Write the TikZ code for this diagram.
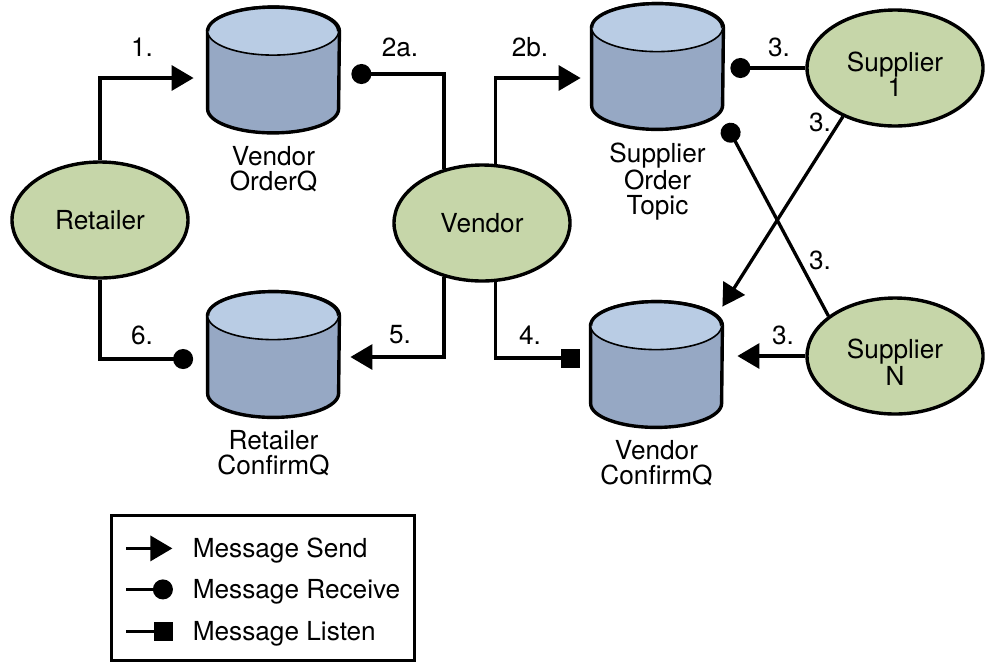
\documentclass[tikz,border=0pt]{standalone}
\usepackage{fontspec}
\setmainfont{TeX Gyre Heros}
\usepackage{tikz}
\usetikzlibrary{arrows.meta,positioning,calc,shapes.geometric}
\definecolor{cActor}{HTML}{C6D6A9}
\definecolor{cQTop} {HTML}{B9CCE4}
\definecolor{cQSide}{HTML}{96A8C4}
\newcommand{\topstrut}{\rule{0pt}{15.8pt}}
\tikzset{
  actor/.style ={ellipse,draw=black,line width=1.7pt,fill=cActor,align=center,
                 minimum width=88pt,minimum height=58pt,inner sep=0pt},
  qbox/.style  ={rectangle,minimum width=65.5pt,minimum height=62.5pt,inner sep=0pt},
  qlbl/.style  ={align=center,anchor=north,inner sep=0pt},
  num/.style   ={inner sep=0pt},
  legbox/.style={draw=black,line width=1.6pt,minimum width=151.5pt,
                 minimum height=72.5pt,inner sep=0pt},
  legtxt/.style={anchor=base west,inner sep=0pt},
  msg/.style   ={draw=black,line width=1.65pt},
  send/.style  ={msg,-{Triangle[length=11pt,width=12.5pt]}},
  recv/.style  ={msg,-{Circle[length=10pt]}},
  lstn/.style  ={msg,-{Square[length=9.5pt]}},
}

\begin{document}
\begin{tikzpicture}[
  x=0.5pt, y=0.5pt, font=\fontsize{13.1}{12.3}\selectfont,
]
\useasboundingbox (0,0) rectangle (988,-665);

% queue drawn as a cylinder over an invisible box node, label below it
\newcommand{\msgqueue}[4]{%
  \node[qbox] (#1) at (#2,#3) {};
  \filldraw[fill=cQSide,line width=1.7pt]
    ($(#1.north west)+(0,-24)$) -- ($(#1.south west)+(0,24)$)
    arc[start angle=180,end angle=360,x radius=32.75pt,y radius=12pt]
    -- ($(#1.north east)+(0,-24)$)
    arc[start angle=0,end angle=180,x radius=32.75pt,y radius=12pt] -- cycle;
  \fill[cQTop] ($(#1.north)+(0,-24)$) ellipse[x radius=32.75pt,y radius=12pt];
  \draw[line width=0.8pt] ($(#1.north west)+(0,-24)$)
    arc[start angle=180,end angle=360,x radius=32.75pt,y radius=12pt];
  \draw[line width=1.7pt] ($(#1.north west)+(0,-24)$)
    arc[start angle=180,end angle=0,x radius=32.75pt,y radius=12pt];
  \node[qlbl] (#1l) at ($(#1.south)+(0,-13)$) {#4};}

% ===== actors ============================================================
\node[actor] (ret)  at (100,-220) {Retailer};
\node[actor] (ven)  at (482,-223) {Vendor};
\node[actor] (sup1) at (895,-68)  {\topstrut Supplier\\1};
\node[actor] (supN) at (895,-356) {\topstrut Supplier\\N};

% ===== queues and topic ==================================================
\msgqueue{voq}{273.5}{-70}{Vendor\\OrderQ}
\msgqueue{rcq}{273.5}{-354.5}{Retailer\\ConfirmQ}
\msgqueue{sot}{657.5}{-66.5}{Supplier\\Order\\Topic}
\msgqueue{vcq}{656.5}{-364.5}{Vendor\\ConfirmQ}

% ===== order path ========================================================
\draw[send] (ret.north) |- ($(voq.west)+(-14,-8)$);
\draw[recv] (ven.125)   |- ($(voq.east)+(12,-4)$);
\draw[send] (ven.77)    |- ($(sot.west)+(-11,-11.5)$);

% suppliers take the order off the topic and answer on the vendor queue
\coordinate (sotR) at ($(sot.east)+(7,0)$);
\coordinate (d3)   at ($(sot.south east)+(2.5,5.5)$);
\coordinate (t3)   at ($(vcq.north east)+(0,-5)$);
\coordinate (vcqR) at ($(vcq.east)+(15,0)$);
\draw[recv] (sup1.west) -- (sup1.west -| sotR);
\draw[recv] (supN.149)  -- (d3);
\draw[send] (sup1.223)  -- (t3);
\draw[send] (supN.west) -- (supN.west -| vcqR);

% ===== confirmation path =================================================
\draw[lstn] (ven.283)   |- ($(vcq.west)+(-11,6.5)$);
\draw[send] (ven.235)   |- ($(rcq.east)+(11,-2.5)$);
\draw[recv] (ret.south) |- ($(rcq.west)+(-14.5,-4.5)$);

% step numbers
\node[num] (n1)  at (142,-47)  {1.};
\node[num] (n2a) at (400,-47)  {2a.};
\node[num] (n2b) at (530,-47)  {2b.};
\node[num] (n3a) at (779,-47)  {3.};
\node[num] (n3b) at (820,-122) {3.};
\node[num] (n3c) at (820,-260) {3.};
\node[num] (n3d) at (783,-335) {3.};
\node[num] (n4)  at (530,-335) {4.};
\node[num] (n5)  at (400,-335) {5.};
\node[num] (n6)  at (142,-335) {6.};

% ===== legend ============================================================
\node[legbox] (legend) at (263,-588) {};
\node[legtxt] (lgSend) at ($(legend.north west)+(82.5,-43.5)$)  {Message Send};
\node[legtxt] (lgRecv) at ($(legend.north west)+(82.5,-84.5)$)  {Message Receive};
\node[legtxt] (lgLstn) at ($(legend.north west)+(82.5,-126.5)$) {Message Listen};
\draw[send] ($(lgSend.base west)+(-66,9)$) -- ($(lgSend.base west)+(-20,9)$);
\draw[recv] ($(lgRecv.base west)+(-66,9)$) -- ($(lgRecv.base west)+(-19.5,9)$);
\draw[lstn] ($(lgLstn.base west)+(-66,9)$) -- ($(lgLstn.base west)+(-19,9)$);
\end{tikzpicture}
\end{document}
